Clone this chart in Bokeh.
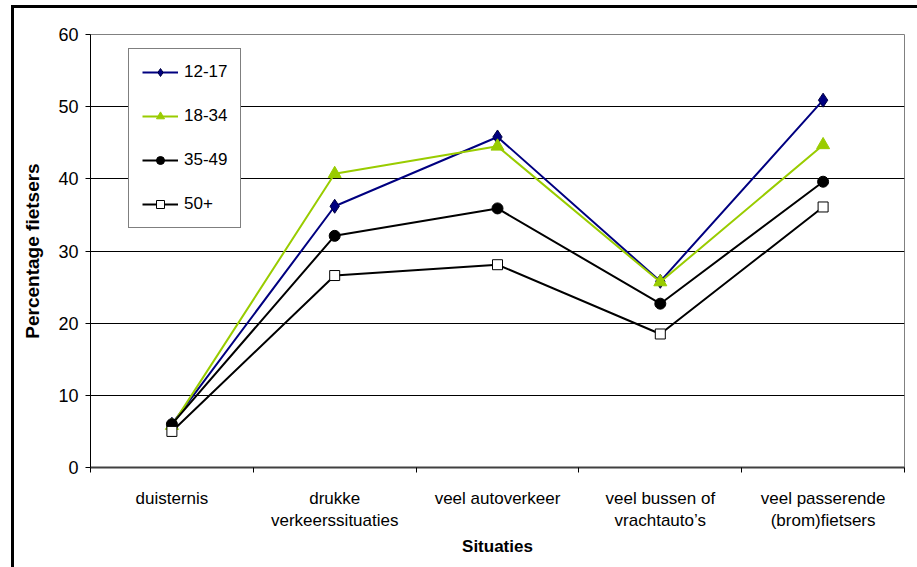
from bokeh.embed import file_html
from bokeh.models import FixedTicker, Legend, LegendItem, Range1d
from bokeh.plotting import figure
from bokeh.resources import INLINE

# Situations (x categories) and share of cyclists per age group (%)
situaties = [
    "duisternis",
    "drukke\nverkeerssituaties",
    "veel autoverkeer",
    "veel bussen of\nvrachtauto\u2019s",
    "veel passerende\n(brom)fietsers",
]
groep_12_17 = [6.0, 36.2, 45.8, 25.8, 50.9]
groep_18_34 = [5.8, 40.7, 44.5, 25.7, 44.7]
groep_35_49 = [6.0, 32.1, 35.9, 22.7, 39.6]
groep_50plus = [5.0, 26.6, 28.1, 18.5, 36.1]
y_ticks = [0, 10, 20, 30, 40, 50, 60]

FONT = "Liberation Sans"
W, H = 917, 567

xs = [i + 0.5 for i in range(len(situaties))]

p = figure(
    width=W, height=H,
    output_backend="svg", toolbar_location=None,
    x_range=Range1d(0, len(situaties)), y_range=Range1d(0, 60),
    min_border_left=90, min_border_right=13,
    min_border_top=34, min_border_bottom=100,
    background_fill_color="white", border_fill_color=None,
)
# white page with the chart's outer border along the left and top edges
p.styles = {
    "background": (
        "linear-gradient(#000, #000) 11px 5px / 3px 100% no-repeat, "
        "linear-gradient(#000, #000) 11px 5px / 100% 3px no-repeat, #fff"
    ),
}
p.outline_line_color = "#808080"
p.outline_line_width = 1

# y axis
p.yaxis.ticker = FixedTicker(ticks=y_ticks, minor_ticks=[])
p.yaxis.axis_label = "Percentage fietsers"
p.yaxis.axis_label_text_font = FONT
p.yaxis.axis_label_text_font_size = "19px"
p.yaxis.axis_label_text_font_style = "bold"
p.yaxis.axis_label_text_color = "black"
p.yaxis.axis_label_standoff = 12
p.yaxis.major_label_text_font = FONT
p.yaxis.major_label_text_font_size = "18px"
p.yaxis.major_label_text_color = "black"
p.yaxis.major_label_standoff = 7
p.yaxis.major_tick_out = 5
p.yaxis.major_tick_in = 0
p.yaxis.axis_line_color = "black"
p.yaxis.major_tick_line_color = "black"

# x axis: labels at category centres, tick marks on category boundaries
p.xaxis.ticker = FixedTicker(ticks=xs, minor_ticks=list(range(len(situaties) + 1)))
p.xaxis.major_label_overrides = {x: s for x, s in zip(xs, situaties)}
p.xaxis.major_tick_out = 0
p.xaxis.major_tick_in = 0
p.xaxis.minor_tick_out = 5
p.xaxis.minor_tick_in = 0
p.xaxis.minor_tick_line_color = "black"
p.xaxis.axis_line_color = "#404040"
p.xaxis.axis_line_width = 2
p.xaxis.major_label_text_font = FONT
p.xaxis.major_label_text_font_size = "17px"
p.xaxis.major_label_text_color = "black"
p.xaxis.major_label_standoff = 16
p.xaxis.axis_label = "Situaties"
p.xaxis.axis_label_text_font = FONT
p.xaxis.axis_label_text_font_size = "17px"
p.xaxis.axis_label_text_font_style = "bold"
p.xaxis.axis_label_text_color = "black"
p.xaxis.axis_label_standoff = 4

p.xgrid.grid_line_color = None
p.ygrid.grid_line_color = "black"
p.ygrid.grid_line_width = 1

# (label, values, line colour, marker style)
series = [
    ("12-17", groep_12_17, "#000080",
     dict(marker="diamond", size=14, fill_color="#000080", line_color="#000040")),
    ("18-34", groep_18_34, "#99CC00",
     dict(marker="triangle", size=13, fill_color="#99CC00", line_color="#99CC00")),
    ("35-49", groep_35_49, "black",
     dict(marker="circle", size=11, fill_color="black", line_color="black")),
    ("50+", groep_50plus, "black",
     dict(marker="square", size=10, fill_color="white", line_color="black")),
]

items = []
for label, vals, color, mk in series:
    ln = p.line(xs, vals, line_color=color, line_width=2)
    sc = p.scatter(xs, vals, line_width=1, **mk)
    items.append(LegendItem(label=label, renderers=[ln, sc]))

legend = Legend(
    items=items, location=(38, 239),
    border_line_color="black", border_line_width=1,
    background_fill_color="white", background_fill_alpha=1,
    label_text_font=FONT, label_text_font_size="17px", label_text_color="black",
    glyph_width=36, glyph_height=20, label_height=20,
    spacing=24, padding=13, label_standoff=6, margin=0,
)
p.add_layout(legend, "center")

open("out.html", "w").write(file_html(p, INLINE))
